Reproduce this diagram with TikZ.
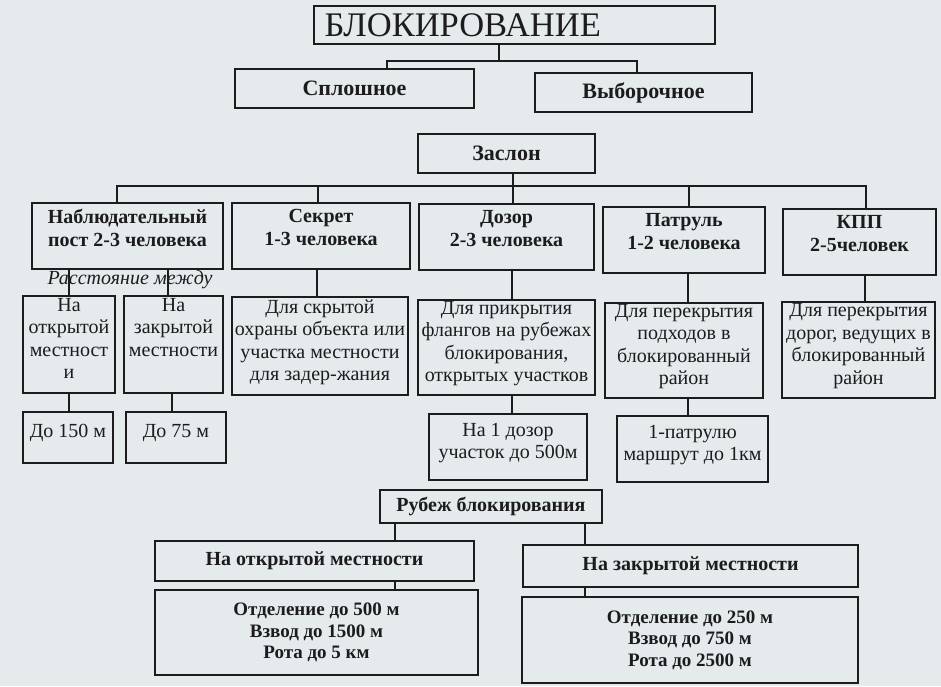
\documentclass[tikz,border=0pt]{standalone}
\usepackage{fontspec}
\setmainfont{Liberation Serif}
\definecolor{bgc}{RGB}{229,234,237}
\definecolor{ink}{RGB}{28,28,30}
\begin{document}
\begin{tikzpicture}[x=1pt,y=-1pt,
  box/.style={draw=ink, line width=1.2pt, inner sep=1pt, align=center, text=ink,
    font=\fontsize{20}{22.5}\selectfont},
  bbox/.style={box, font=\fontsize{20}{23}\selectfont\bfseries},
  big/.style={box, font=\fontsize{22}{26}\selectfont\bfseries},
  dbox/.style={box, font=\fontsize{19}{21.5}\selectfont\bfseries},
  up/.style={text depth=17pt},
  upb/.style={text depth=12pt},
  conn/.style={draw=ink, line width=1.2pt}]
\fill[bgc] (0,0) rectangle (941,686);
\useasboundingbox (0,0) rectangle (941,686);

% level 0-2
\node[box, minimum width=401pt, minimum height=38pt, text width=380pt, inner xsep=10.5pt,
  align=left, font=\fontsize{34.5}{36}\selectfont] (top) at (514.5,25) {БЛОКИРОВАНИЕ};
\node[big, minimum width=239pt, minimum height=39pt] (splosh) at (354.5,88.5) {Сплошное};
\node[big, minimum width=217pt, minimum height=39pt] (vybor) at (643.5,92.5) {Выборочное};
\node[big, minimum width=177pt, minimum height=39pt] (zaslon) at (506.5,153.5) {Заслон};

% row 1
\node[bbox, up, minimum width=191pt, minimum height=66pt] (nab) at (127.5,236) {Наблюдательный\\пост 2-3 человека};
\node[bbox, up, minimum width=178pt, minimum height=66pt] (sekret) at (321,236) {Секрет\\1-3 человека};
\node[bbox, up, minimum width=175pt, minimum height=66pt] (dozor) at (506.5,237) {Дозор\\2-3 человека};
\node[bbox, up, minimum width=162pt, minimum height=66pt] (patrul) at (684,240) {Патруль\\1-2 человека};
\node[bbox, up, minimum width=153pt, minimum height=66pt] (kpp) at (859.5,242) {КПП\\2-5человек};

% label
\node[text=ink, font=\fontsize{20}{23}\selectfont\itshape] (rast) at (130,280) {Расстояние между};

% row 2
\node[box, upb, minimum width=92pt, minimum height=97pt] (open1) at (69,344.5) {На\\открытой\\местност\\и};
\node[box, upb, minimum width=99pt, minimum height=97pt] (closed1) at (173.5,344.5) {На\\закрытой\\местности\\\mbox{}};
\node[box, upb, minimum width=176pt, minimum height=98pt] (sekretD) at (320,346) {Для скрытой\\охраны объекта или\\участка местности\\для задер-жания};
\node[box, upb, minimum width=177pt, minimum height=95pt] (dozorD) at (506.5,347.5) {Для прикрытия\\флангов на рубежах\\блокирования,\\открытых участков};
\node[box, upb, minimum width=158pt, minimum height=95pt] (patrulD) at (684,350.5) {Для перекрытия\\подходов в\\блокированный\\район};
\node[box, upb, minimum width=153pt, minimum height=96pt] (kppD) at (858.5,350) {Для перекрытия\\дорог, ведущих в\\блокированный\\район};

% row 3
\node[box, minimum width=90pt, minimum height=51pt, text depth=14pt] (d150) at (68,437.5) {До 150 м};
\node[box, minimum width=100pt, minimum height=51pt, text depth=14pt] (d75) at (176,437.5) {До 75 м};
\node[box, upb, minimum width=158pt, minimum height=66pt] (dozor1) at (508,447) {На 1 дозор\\участок до 500м};
\node[box, upb, minimum width=151pt, minimum height=66pt] (patrul1) at (692.5,449) {1-патрулю\\маршрут до 1км};

% rubezh
\node[bbox, minimum width=222pt, minimum height=33pt] (rubezh) at (491,506.5) {Рубеж блокирования};
\node[bbox, minimum width=319pt, minimum height=40pt] (openL) at (314.5,561) {На открытой местности};
\node[dbox, minimum width=323pt, minimum height=85pt] (openR) at (316.5,632.5) {Отделение до 500 м\\Взвод до 1500 м\\Рота до 5 км};
\node[bbox, minimum width=335pt, minimum height=42pt] (closedL) at (690.5,566) {На закрытой местности};
\node[dbox, minimum width=336pt, minimum height=86pt] (closedR) at (690,640) {Отделение до 250 м\\Взвод до 750 м\\Рота до 2500 м};

% connectors top
\coordinate (j0) at (499,61);
\coordinate (ja) at (387,61);
\coordinate (jb) at (637,61);
\draw[conn] (top.south -| j0) -- (j0);
\draw[conn] (splosh.north -| ja) |- (jb) -- (vybor.north -| jb);

\coordinate (k0) at (513,186);
\coordinate (ka) at (117,186);
\coordinate (kb) at (318,186);
\coordinate (kd) at (689,186);
\coordinate (ke) at (866,186);
\draw[conn] (zaslon.south -| k0) -- (dozor.north -| k0);
\draw[conn] (nab.north -| ka) |- (ke) -- (kpp.north -| ke);
\draw[conn] (sekret.north -| kb) -- (kb);
\draw[conn] (patrul.north -| kd) -- (kd);

% connectors lower
\coordinate (c1) at (69,0);
\coordinate (c2) at (168,0);
\coordinate (c3) at (317,0);
\coordinate (c4) at (512,0);
\coordinate (c5) at (688,0);
\coordinate (c6) at (865,0);
\coordinate (c8) at (172,0);
\coordinate (c9) at (395,0);
\coordinate (c10) at (585,0);
\draw[conn] (nab.south -| c1) -- (open1.north -| c1);
\draw[conn] (nab.south -| c2) -- (closed1.north -| c2);
\draw[conn] (sekret.south -| c3) -- (sekretD.north -| c3);
\draw[conn] (dozor.south -| c4) -- (dozorD.north -| c4);
\draw[conn] (patrul.south -| c5) -- (patrulD.north -| c5);
\draw[conn] (kpp.south -| c6) -- (kppD.north -| c6);
\draw[conn] (open1.south -| c1) -- (d150.north -| c1);
\draw[conn] (closed1.south -| c8) -- (d75.north -| c8);
\draw[conn] (dozorD.south -| c4) -- (dozor1.north -| c4);
\draw[conn] (patrulD.south -| c5) -- (patrul1.north -| c5);
\draw[conn] (rubezh.south -| c9) -- (openL.north -| c9);
\draw[conn] (openL.south -| c9) -- (openR.north -| c9);
\draw[conn] (rubezh.south -| c10) -- (closedL.north -| c10);
\draw[conn] (closedL.south -| c10) -- (closedR.north -| c10);
\end{tikzpicture}
\end{document}
